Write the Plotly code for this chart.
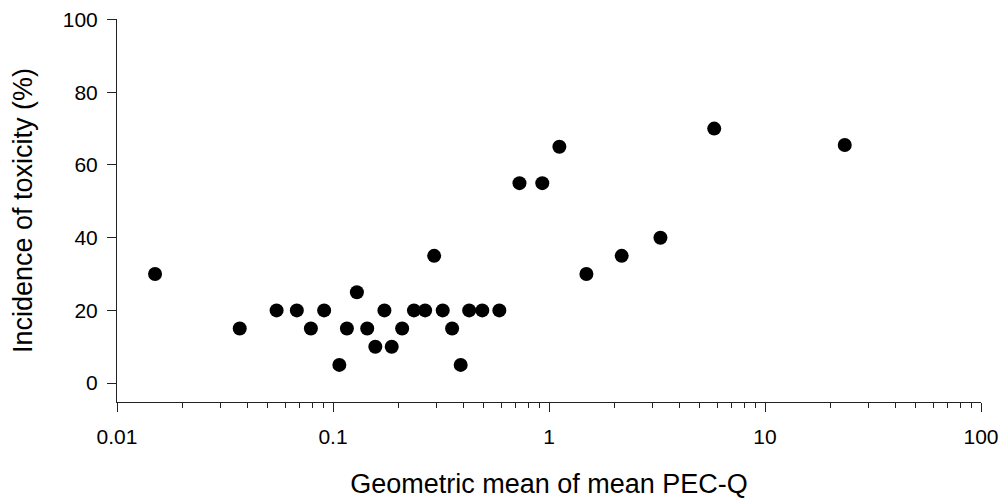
import plotly.graph_objects as go

pec_q = [0.015, 0.037, 0.0548, 0.068, 0.079, 0.091, 0.107, 0.116, 0.129, 0.144,
         0.157, 0.173, 0.187, 0.209, 0.237, 0.267, 0.294, 0.322, 0.356, 0.390,
         0.427, 0.491, 0.589, 0.730, 0.931, 1.117, 1.49, 2.17, 3.28, 5.82, 23.4]
incidence = [30, 15, 20, 20, 15, 20, 5, 15, 25, 15,
             10, 20, 10, 15, 20, 20, 35, 20, 15, 5,
             20, 20, 20, 55, 55, 65, 30, 35, 40, 70, 65.5]

x_major = [0.01, 0.1, 1, 10, 100]
x_major_text = ["0.01", "0.1", "1", "10", "100"]
x_minor = [m * d for d in [0.01, 0.1, 1, 10] for m in range(2, 10)]
y_ticks = [0, 20, 40, 60, 80, 100]

fig = go.Figure(go.Scatter(
    x=pec_q, y=incidence, mode="markers",
    marker=dict(color="black", size=14, line=dict(width=0)),
    showlegend=False))

font = dict(family="Liberation Sans, Arial, sans-serif", size=21, color="black")

fig.update_layout(
    width=1008, height=500,
    margin=dict(l=109, r=35, t=11, b=106),
    paper_bgcolor="white", plot_bgcolor="white",
    font=font,
)
fig.update_xaxes(
    type="log", range=[-2, 2],
    tickvals=x_major, ticktext=x_major_text,
    ticks="outside", ticklen=9, tickwidth=1, tickcolor="#222",
    minor=dict(tickvals=x_minor, ticks="outside", ticklen=5, tickwidth=1, tickcolor="#222", showgrid=False),
    showline=True, linecolor="#222", linewidth=1,
    showgrid=False, zeroline=False,
    ticklabelstandoff=7, automargin=False, ticklabeloverflow="allow",
    title=dict(text="Geometric mean of mean PEC-Q", font=dict(size=27), standoff=26),
)
fig.update_yaxes(
    range=[-5.2, 100.15],
    tickvals=y_ticks,
    ticks="outside", ticklen=9, tickwidth=1, tickcolor="#222",
    showline=True, linecolor="#222", linewidth=1,
    showgrid=False, zeroline=False,
    ticklabelstandoff=5, automargin=False, ticklabeloverflow="allow",
    title=dict(text="Incidence of toxicity (%)", font=dict(size=27), standoff=31),
)

fig.write_html("out.html")
